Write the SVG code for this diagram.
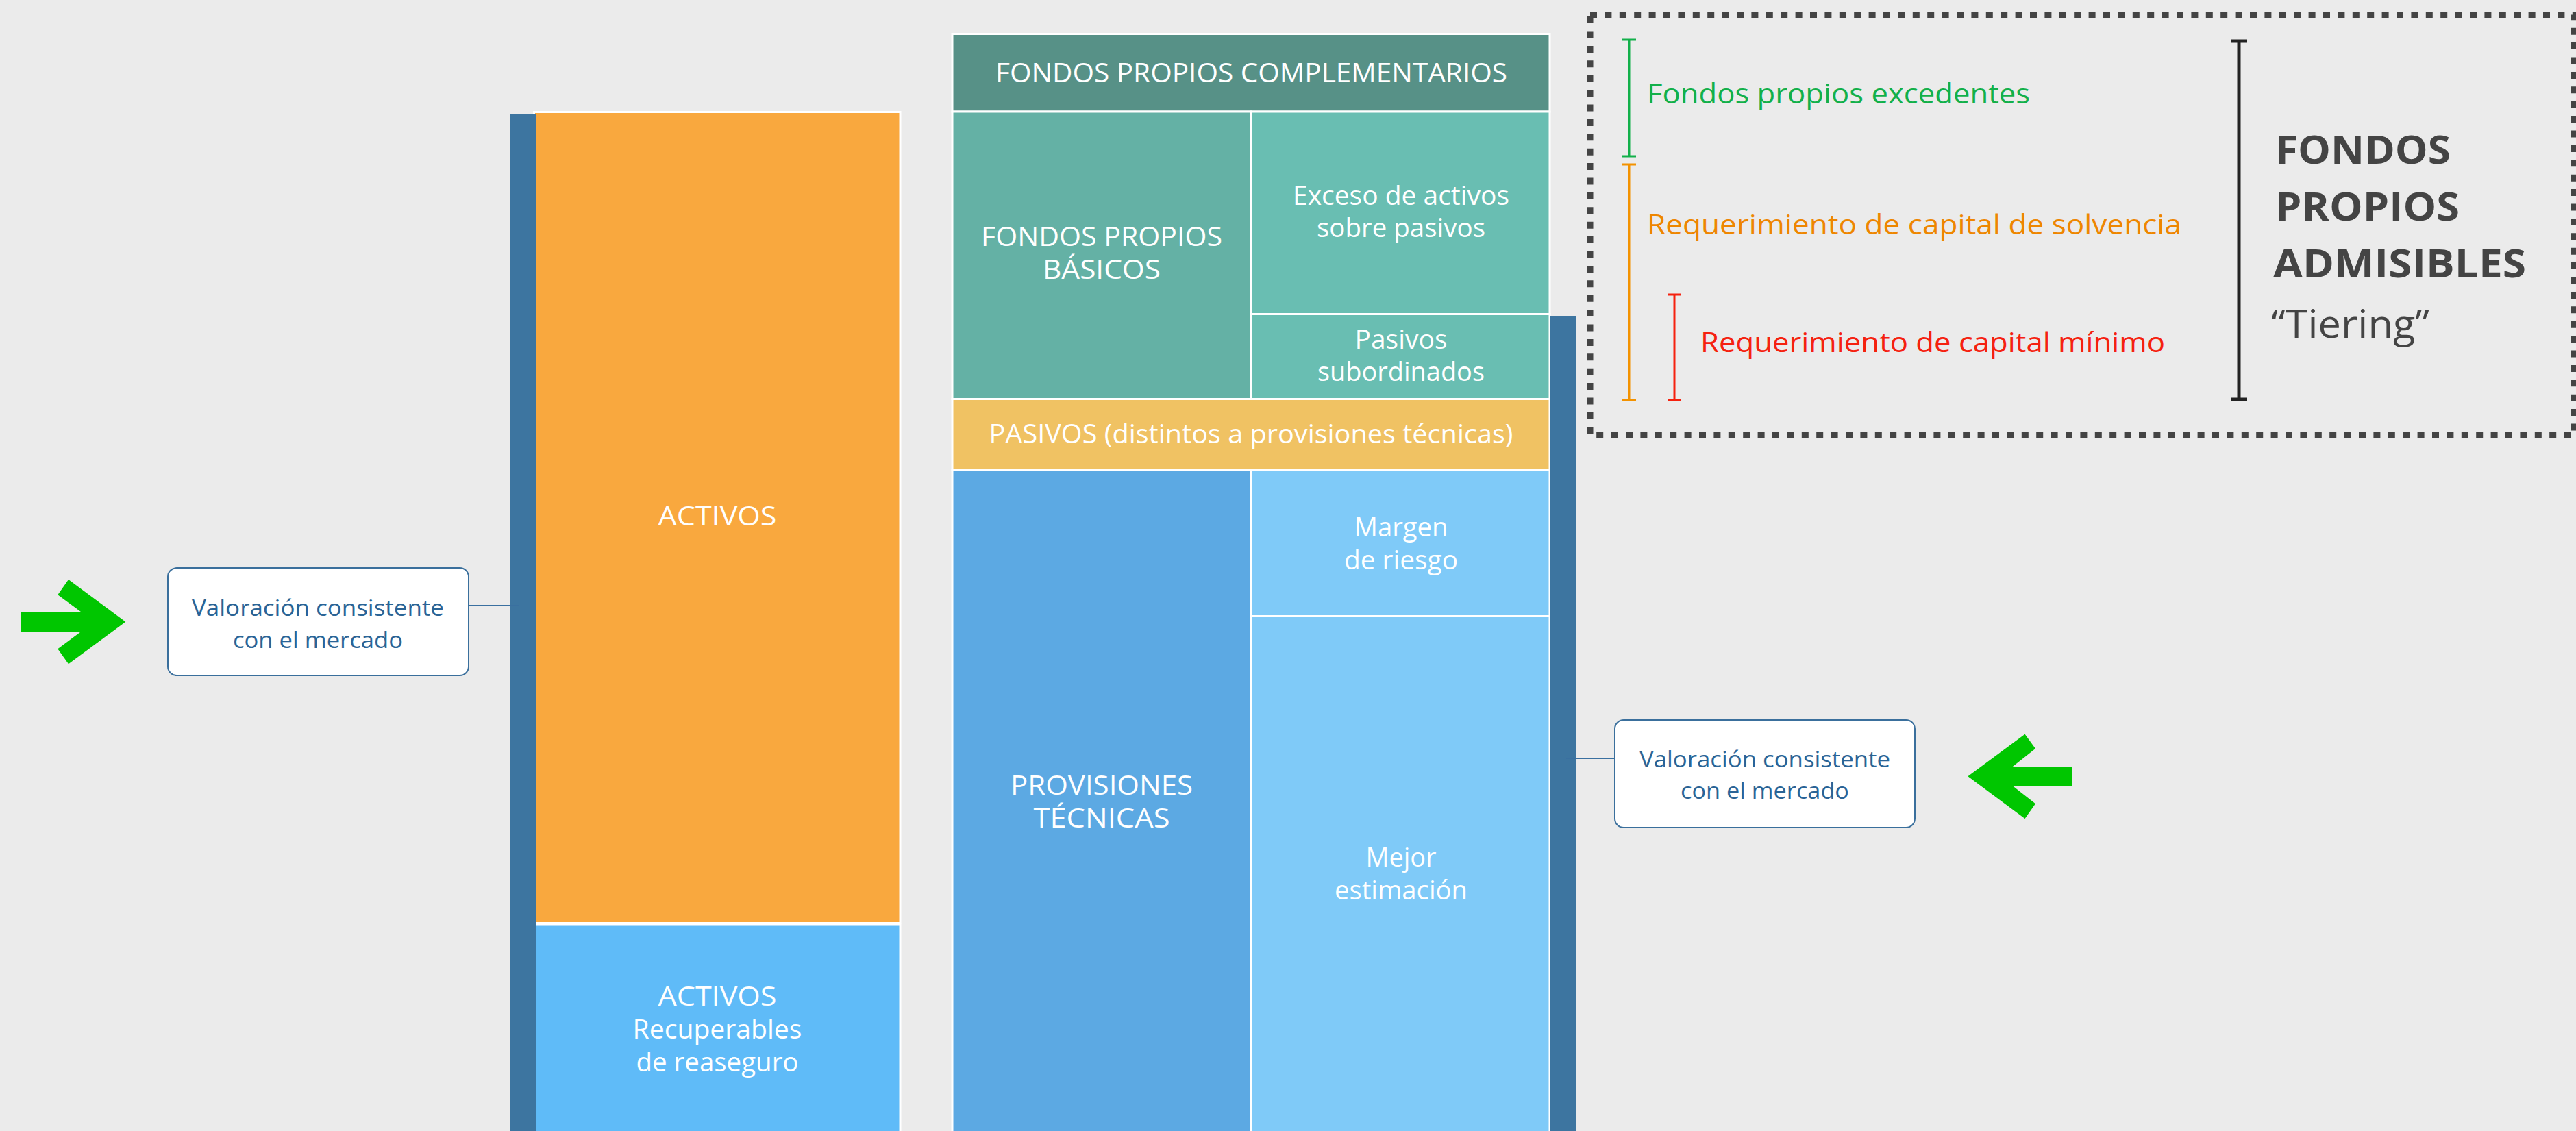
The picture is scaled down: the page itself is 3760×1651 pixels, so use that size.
<svg xmlns="http://www.w3.org/2000/svg" width="3760" height="1651" viewBox="0 0 3760 1651">
<style>
.box{stroke:#ffffff;stroke-width:3}
.wt{fill:#ffffff;font-family:"Open Sans","Noto Sans",sans-serif;font-size:39px;text-anchor:middle}
.ct{fill:#2a6496;font-family:"Open Sans","Noto Sans",sans-serif;font-size:33px;text-anchor:middle}
.call{fill:#ffffff;stroke:#3a6f9c;stroke-width:2}
.conn{stroke:#3a70a0;stroke-width:2;fill:none}
.bar{fill:#3d75a0}
.arrow{fill:#00c600}
.lg{font-family:"Open Sans","Noto Sans",sans-serif;font-size:41px}
.big{fill:#444444;font-family:"Open Sans","Noto Sans",sans-serif;font-size:57px}
</style>
<rect x="0" y="0" width="3760" height="1651" fill="#ebebeb"/>

<g id="activos">
<rect class="box" x="779.5" y="163.5" width="534.5" height="1184" fill="#f9a83e"/>
<text class="wt" x="1047" y="767" textLength="173" lengthAdjust="spacingAndGlyphs">ACTIVOS</text>
</g>
<g id="activos-reaseguro">
<rect class="box" x="779.5" y="1350" width="534.5" height="320" fill="#5fbbf8"/>
<text class="wt" x="1047" y="1468" textLength="173" lengthAdjust="spacingAndGlyphs">ACTIVOS</text>
<text class="wt" x="1047" y="1516" textLength="247" lengthAdjust="spacingAndGlyphs">Recuperables</text>
<text class="wt" x="1047" y="1564" textLength="237" lengthAdjust="spacingAndGlyphs">de reaseguro</text>
</g>
<g id="bar-left"><rect class="bar" x="745" y="167" width="38" height="1484"/></g>

<g id="fp-complementarios">
<rect class="box" x="1390" y="49.5" width="872" height="113.5" fill="#579187"/>
<text class="wt" x="1826.5" y="120" textLength="747" lengthAdjust="spacingAndGlyphs">FONDOS PROPIOS COMPLEMENTARIOS</text>
</g>
<g id="fp-basicos">
<rect class="box" x="1390" y="163" width="436.5" height="419.5" fill="#64b1a5"/>
<text class="wt" x="1608" y="359" textLength="352" lengthAdjust="spacingAndGlyphs">FONDOS PROPIOS</text>
<text class="wt" x="1608" y="407" textLength="172" lengthAdjust="spacingAndGlyphs">BÁSICOS</text>
</g>
<g id="exceso">
<rect class="box" x="1826.5" y="163" width="435.5" height="295.5" fill="#69beb2"/>
<text class="wt" x="2045" y="299" textLength="316" lengthAdjust="spacingAndGlyphs">Exceso de activos</text>
<text class="wt" x="2045" y="346" textLength="246" lengthAdjust="spacingAndGlyphs">sobre pasivos</text>
</g>
<g id="subordinados">
<rect class="box" x="1826.5" y="458.5" width="435.5" height="124" fill="#69beb2"/>
<text class="wt" x="2045" y="509" textLength="135" lengthAdjust="spacingAndGlyphs">Pasivos</text>
<text class="wt" x="2045" y="556" textLength="244" lengthAdjust="spacingAndGlyphs">subordinados</text>
</g>
<g id="pasivos">
<rect class="box" x="1390" y="582.5" width="872" height="104" fill="#f0c263"/>
<text class="wt" x="1826" y="647" textLength="765" lengthAdjust="spacingAndGlyphs">PASIVOS (distintos a provisiones técnicas)</text>
</g>
<g id="provisiones">
<rect class="box" x="1390" y="686.5" width="436.5" height="1000" fill="#5ca9e3"/>
<text class="wt" x="1608" y="1160" textLength="266" lengthAdjust="spacingAndGlyphs">PROVISIONES</text>
<text class="wt" x="1608" y="1208" textLength="199" lengthAdjust="spacingAndGlyphs">TÉCNICAS</text>
</g>
<g id="margen">
<rect class="box" x="1826.5" y="686.5" width="435.5" height="213" fill="#7fcaf8"/>
<text class="wt" x="2045" y="783" textLength="137" lengthAdjust="spacingAndGlyphs">Margen</text>
<text class="wt" x="2045" y="831" textLength="166" lengthAdjust="spacingAndGlyphs">de riesgo</text>
</g>
<g id="mejor">
<rect class="box" x="1826.5" y="899.5" width="435.5" height="800" fill="#7fcaf8"/>
<text class="wt" x="2045" y="1265" textLength="103" lengthAdjust="spacingAndGlyphs">Mejor</text>
<text class="wt" x="2045" y="1313" textLength="194" lengthAdjust="spacingAndGlyphs">estimación</text>
</g>
<g id="bar-right"><rect class="bar" x="2262" y="462" width="38" height="1189"/></g>

<g id="connectors">
<line class="conn" x1="684" y1="884" x2="757" y2="884"/>
<line class="conn" x1="2286" y1="1107" x2="2357" y2="1107"/>
</g>

<g id="callout-left">
<rect class="call" x="245" y="829" width="439" height="157" rx="13"/>
<text class="ct" x="464" y="899" textLength="368" lengthAdjust="spacingAndGlyphs">Valoración consistente</text>
<text class="ct" x="464" y="946" textLength="248" lengthAdjust="spacingAndGlyphs">con el mercado</text>
</g>
<g id="callout-right">
<rect class="call" x="2357" y="1051" width="438" height="157" rx="13"/>
<text class="ct" x="2576" y="1120" textLength="366" lengthAdjust="spacingAndGlyphs">Valoración consistente</text>
<text class="ct" x="2576" y="1166" textLength="246" lengthAdjust="spacingAndGlyphs">con el mercado</text>
</g>

<g id="arrow-left">
<polygon class="arrow" points="31,893.3 118.3,893.3 84.3,868.3 100,846 183.3,907.7 100,969.3 84.3,947.3 118.3,922 31,922"/>
</g>
<g id="arrow-right">
<polygon class="arrow" points="3024.5,1119 2937.8,1119 2971,1092.7 2955.6,1071.7 2872.4,1133.3 2955.6,1195 2971,1173.3 2937.8,1147.3 3024.5,1147.3"/>
</g>

<g id="legend">
<rect x="2321" y="21.5" width="1436" height="614" fill="none" stroke="#444444" stroke-width="9" stroke-dasharray="10 11.4"/>
<g id="green-bracket" stroke="#12b04a" stroke-width="3">
<line x1="2378" y1="58" x2="2378" y2="228"/>
<line x1="2368" y1="58" x2="2388" y2="58"/>
<line x1="2368" y1="228" x2="2388" y2="228"/>
</g>
<g id="orange-bracket" stroke="#f39200" stroke-width="3">
<line x1="2378" y1="240" x2="2378" y2="584"/>
<line x1="2368" y1="240" x2="2388" y2="240"/>
<line x1="2368" y1="584" x2="2388" y2="584"/>
</g>
<g id="red-bracket" stroke="#f5210f" stroke-width="3">
<line x1="2444" y1="430" x2="2444" y2="584"/>
<line x1="2434" y1="430" x2="2454" y2="430"/>
<line x1="2434" y1="584" x2="2454" y2="584"/>
</g>
<g id="black-bracket" stroke="#222222" stroke-width="5">
<line x1="3268" y1="60" x2="3268" y2="583"/>
<line x1="3256" y1="60" x2="3280" y2="60"/>
<line x1="3256" y1="583" x2="3280" y2="583"/>
</g>
<text class="lg" x="2404" y="151" fill="#12b04a" textLength="559" lengthAdjust="spacingAndGlyphs">Fondos propios excedentes</text>
<text class="lg" x="2404" y="342" fill="#ee8600" textLength="780" lengthAdjust="spacingAndGlyphs">Requerimiento de capital de solvencia</text>
<text class="lg" x="2482" y="514" fill="#f5210f" textLength="678" lengthAdjust="spacingAndGlyphs">Requerimiento de capital mínimo</text>
<text class="big" x="3321" y="239" font-weight="bold" textLength="256" lengthAdjust="spacingAndGlyphs">FONDOS</text>
<text class="big" x="3321" y="322" font-weight="bold" textLength="269" lengthAdjust="spacingAndGlyphs">PROPIOS</text>
<text class="big" x="3318" y="405" font-weight="bold" textLength="369" lengthAdjust="spacingAndGlyphs">ADMISIBLES</text>
<text class="big" x="3315" y="493" textLength="231" lengthAdjust="spacingAndGlyphs">“Tiering”</text>
</g>
</svg>
